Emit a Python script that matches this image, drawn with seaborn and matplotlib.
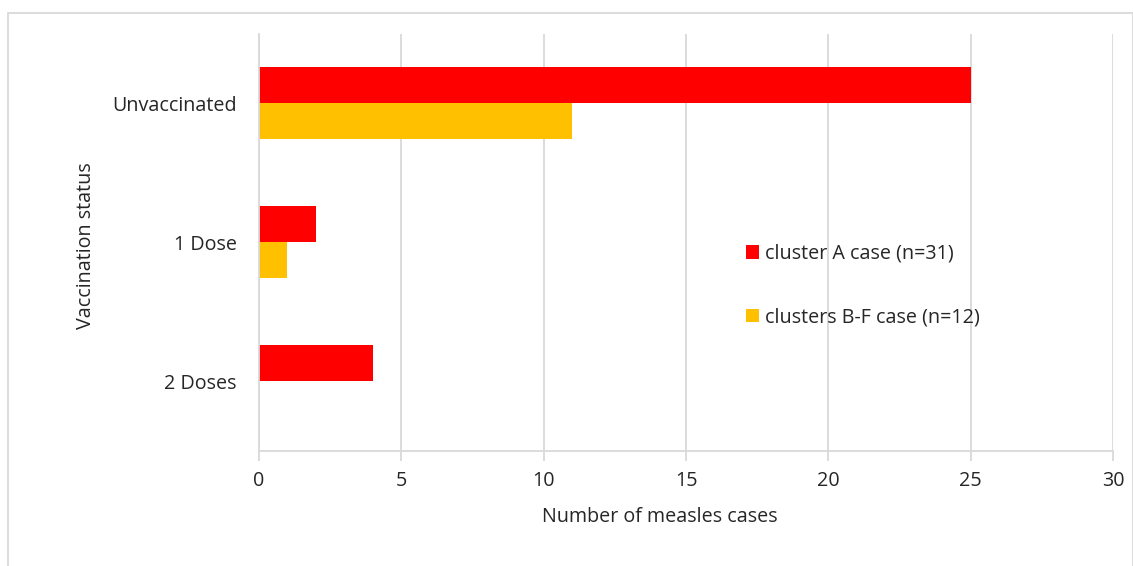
import matplotlib
matplotlib.use("Agg")
import matplotlib.pyplot as plt
import seaborn as sns
import pandas as pd
from matplotlib.patches import Rectangle

categories = ["Unvaccinated", "1 Dose", "2 Doses"]
cluster_a = [25, 2, 4]
clusters_bf = [11, 1, 0]
series_names = ["cluster A case (n=31)", "clusters B-F case (n=12)"]
x_ticks = [0, 5, 10, 15, 20, 25, 30]

df = pd.DataFrame({
    "status": categories * 2,
    "cases": cluster_a + clusters_bf,
    "series": [series_names[0]] * 3 + [series_names[1]] * 3,
})

sns.set_theme(style="white")
plt.rcParams['font.family'] = ['Open Sans', 'DejaVu Sans']

FS = 14.2
TXT = "#262626"
GRID = "#D9D9D9"

fig = plt.figure(figsize=(11.33, 5.66), dpi=100)
W, H = 1133, 566
ax = fig.add_axes([259 / W, 1 - 450.5 / H, (1113 - 259) / W, (450.5 - 33.5) / H])

sns.barplot(data=df, y="status", x="cases", hue="series", orient="h",
            palette=["#FF0000", "#FFC000"], width=0.52, ax=ax,
            order=categories, hue_order=series_names, saturation=1,
            linewidth=0, edgecolor="none")

ax.set_xlim(0, 30)
ax.set_xticks(x_ticks)
ax.set_xticklabels([str(t) for t in x_ticks], fontsize=FS, color=TXT)
ax.tick_params(axis="x", length=7, width=1.3, color=GRID, pad=8, direction="out", bottom=True)
ax.tick_params(axis="y", length=0, pad=16, labelsize=FS, labelcolor=TXT)
ax.xaxis.grid(True, color=GRID, linewidth=1.3)
ax.set_axisbelow(True)
for s in ["top", "right"]:
    ax.spines[s].set_visible(False)
for s in ["left", "bottom"]:
    ax.spines[s].set_color(GRID)
    ax.spines[s].set_linewidth(1.3)

ax.set_xlabel("")
ax.set_ylabel("")
fig.text(660 / W, 1 - 517 / H, "Number of measles cases", ha="center", va="center",
         fontsize=FS, color=TXT)
fig.text(86 / W, 1 - 246 / H, "Vaccination status", ha="center", va="center",
         rotation=90, fontsize=FS, color=TXT)

leg = ax.legend(loc="upper left", bbox_to_anchor=(746 / W, 1 - 244 / H),
                bbox_transform=fig.transFigure, frameon=False, fontsize=FS,
                handlelength=0.65, handleheight=0.65, handletextpad=0.3,
                labelspacing=2.2, borderpad=0, borderaxespad=0, labelcolor=TXT)

fig.patches.append(Rectangle((8 / W, -0.01), (W - 8) / W, 1 - 13 / H + 0.01,
                             transform=fig.transFigure, fill=False,
                             edgecolor=GRID, linewidth=1.3))

fig.savefig("out.png", dpi=100)
